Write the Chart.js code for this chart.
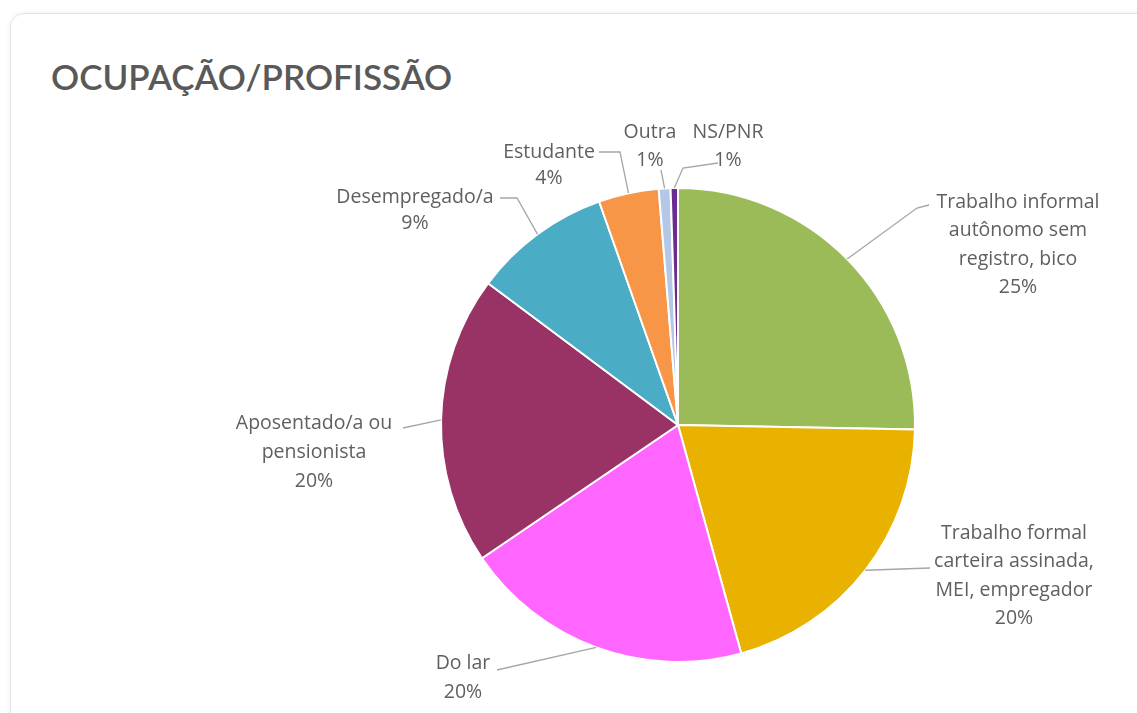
<!DOCTYPE html>
<html>
<head>
<meta charset="utf-8">
<script src="https://cdn.jsdelivr.net/npm/chart.js@4"></script>
<style>
  html, body { margin: 0; padding: 0; background: #fff; }
  #wrap { position: relative; width: 1137px; height: 713px; overflow: hidden; }
  #card { position: absolute; left: 10px; top: 13px; width: 1140px; height: 720px; border: 1px solid #e4e4e4; border-radius: 14px; box-shadow: 0 0 4px rgba(0,0,0,0.08); }
  #title { position: absolute; left: 51px; top: 55px; font-family: Lato, sans-serif; font-size: 35px; font-weight: 600; color: #595959; }
  canvas { position: absolute; left: 0; top: 0; }
</style>
</head>
<body>
<div id="wrap">
  <div id="card"></div>
  <div id="title">OCUPAÇÃO/PROFISSÃO</div>
  <canvas id="pie" width="1137" height="713"></canvas>
</div>
<script>
const categories = [
  'Trabalho informal autônomo sem registro, bico',
  'Trabalho formal carteira assinada, MEI, empregador',
  'Do lar',
  'Aposentado/a ou pensionista',
  'Desempregado/a',
  'Estudante',
  'Outra',
  'NS/PNR'
];
const shares = [25.3, 20.4, 19.8, 19.7, 9.4, 4.1, 0.8, 0.5];
const pctLabels = ['25%', '20%', '20%', '20%', '9%', '4%', '1%', '1%'];
const labelLines = [
  ['Trabalho informal', 'autônomo sem', 'registro, bico'],
  ['Trabalho formal', 'carteira assinada,', 'MEI, empregador'],
  ['Do lar'],
  ['Aposentado/a ou', 'pensionista'],
  ['Desempregado/a'],
  ['Estudante'],
  ['Outra'],
  ['NS/PNR']
];
const colors = ['#9BBB59', '#E9B200', '#FF66FF', '#993366', '#4BACC6', '#F79646', '#B4C7E7', '#6A2C91'];

// label placement relative to pie centre: text centre x, first line y, line height, leader elbows
const labelLayout = [
  { tx: 340, ty: -223, lh: 28.5, path: [[239, -217], [251, -220]] },
  { tx: 336, ty: 108, lh: 28.5, path: [[252, 143]] },
  { tx: -215, ty: 238, lh: 29, path: [[-181, 245]] },
  { tx: -364, ty: -2, lh: 29, path: [[-275, 3]] },
  { tx: -263, ty: -228, lh: 26, path: [[-161, -227], [-178, -227]] },
  { tx: -129, ty: -273, lh: 26, path: [[-58, -273], [-79, -273]] },
  { tx: -28, ty: -293, lh: 28, path: [[-17, -255]] },
  { tx: 50, ty: -293, lh: 28, path: [[5, -257], [40, -262]] }
];

const leaderLabels = {
  id: 'leaderLabels',
  afterDatasetsDraw(chart) {
    const ctx = chart.ctx;
    const meta = chart.getDatasetMeta(0);
    ctx.save();
    ctx.font = '19.5px "Open Sans", sans-serif';
    ctx.textAlign = 'center';
    ctx.textBaseline = 'middle';
    meta.data.forEach((arc, i) => {
      const p = arc.getProps(['x', 'y', 'startAngle', 'endAngle', 'outerRadius'], true);
      const mid = (p.startAngle + p.endAngle) / 2;
      const sx = p.x + Math.cos(mid) * p.outerRadius;
      const sy = p.y + Math.sin(mid) * p.outerRadius;
      const L = labelLayout[i];
      ctx.strokeStyle = '#a6a6a6';
      ctx.lineWidth = 1.3;
      ctx.beginPath();
      ctx.moveTo(sx, sy);
      L.path.forEach(([dx, dy]) => ctx.lineTo(p.x + dx, p.y + dy));
      ctx.stroke();
      ctx.fillStyle = '#5f5f5f';
      const lines = labelLines[i].concat([pctLabels[i]]);
      lines.forEach((t, k) => ctx.fillText(t, p.x + L.tx, p.y + L.ty + k * L.lh));
    });
    ctx.restore();
  }
};

new Chart(document.getElementById('pie'), {
  type: 'pie',
  data: {
    labels: categories,
    datasets: [{
      data: shares,
      backgroundColor: colors,
      borderColor: '#ffffff',
      borderWidth: 2
    }]
  },
  options: {
    responsive: false,
    animation: false,
    layout: { padding: { left: 440, right: 221, top: 187, bottom: 50 } },
    plugins: { legend: { display: false }, tooltip: { enabled: false } }
  },
  plugins: [leaderLabels]
});
</script>
</body>
</html>
